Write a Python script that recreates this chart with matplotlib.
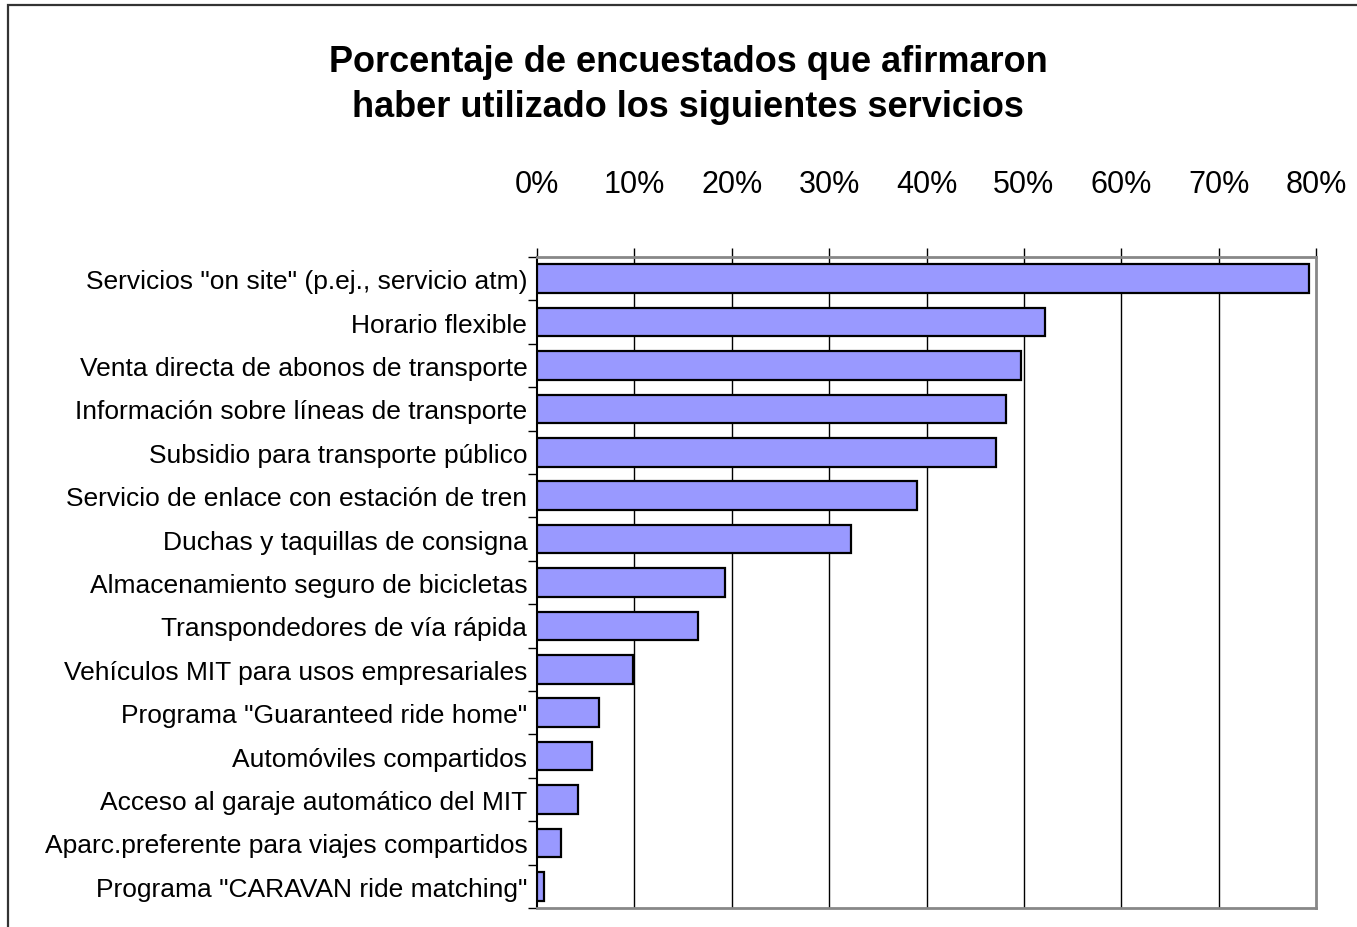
import matplotlib.pyplot as plt
import matplotlib.patches as patches
import numpy as np

# data
services = [
    'Servicios "on site" (p.ej., servicio atm)',
    'Horario flexible',
    'Venta directa de abonos de transporte',
    'Información sobre líneas de transporte',
    'Subsidio para transporte público',
    'Servicio de enlace con estación de tren',
    'Duchas y taquillas de consigna',
    'Almacenamiento seguro de bicicletas',
    'Transpondedores de vía rápida',
    'Vehículos MIT para usos empresariales',
    'Programa "Guaranteed ride home"',
    'Automóviles compartidos',
    'Acceso al garaje automático del MIT',
    'Aparc.preferente para viajes compartidos',
    'Programa "CARAVAN ride matching"',
]
percent = [79.3, 52.2, 49.7, 48.2, 47.1, 39.0, 32.2, 19.3, 16.5, 9.9, 6.4, 5.6, 4.2, 2.5, 0.75]
xticks = [0, 10, 20, 30, 40, 50, 60, 70, 80]

plt.rcParams['font.family'] = ['Liberation Sans', 'DejaVu Sans']

fig = plt.figure(figsize=(13.57, 9.28), dpi=100)
ax = fig.add_axes([537 / 1357, 19 / 928, 779 / 1357, 651 / 928])

# outer frame
fig.patches.append(patches.Rectangle((8 / 1357, -0.05), 1.2, (928 - 6) / 928 + 0.05,
                                     transform=fig.transFigure, fill=False,
                                     edgecolor='#333333', linewidth=1.6))

y = np.arange(len(services))
ax.barh(y, percent, height=0.66, color='#9999FF', edgecolor='black', linewidth=1.6, zorder=3)

ax.set_xlim(0, 80)
ax.set_ylim(len(services) - 0.5, -0.5)

ax.xaxis.tick_top()
ax.set_xticks(xticks)
ax.set_xticklabels([f'{t}%' for t in xticks], fontsize=22)
ax.tick_params(axis='x', direction='out', length=6.5, width=1, color='black', pad=35)
for t in xticks[1:-1]:
    ax.axvline(t, color='black', linewidth=1, zorder=1)

ax.set_yticks(y)
ax.set_yticklabels(services, fontsize=19)
ax.set_yticks(np.arange(len(services) + 1) - 0.5, minor=True)
ax.tick_params(axis='y', which='major', length=0, pad=7)
ax.tick_params(axis='y', which='minor', direction='out', length=6.5, width=1, color='black')

for side in ['top', 'right', 'bottom']:
    ax.spines[side].set_color('#888888')
    ax.spines[side].set_linewidth(2)
ax.spines['left'].set_color('black')
ax.spines['left'].set_linewidth(1.5)

fig.text(688 / 1357, 1 - 85 / 928, 'Porcentaje de encuestados que afirmaron\nhaber utilizado los siguientes servicios',
         ha='center', va='center', fontsize=26, fontweight='bold', linespacing=1.4)

fig.savefig('out.png', dpi=100)
